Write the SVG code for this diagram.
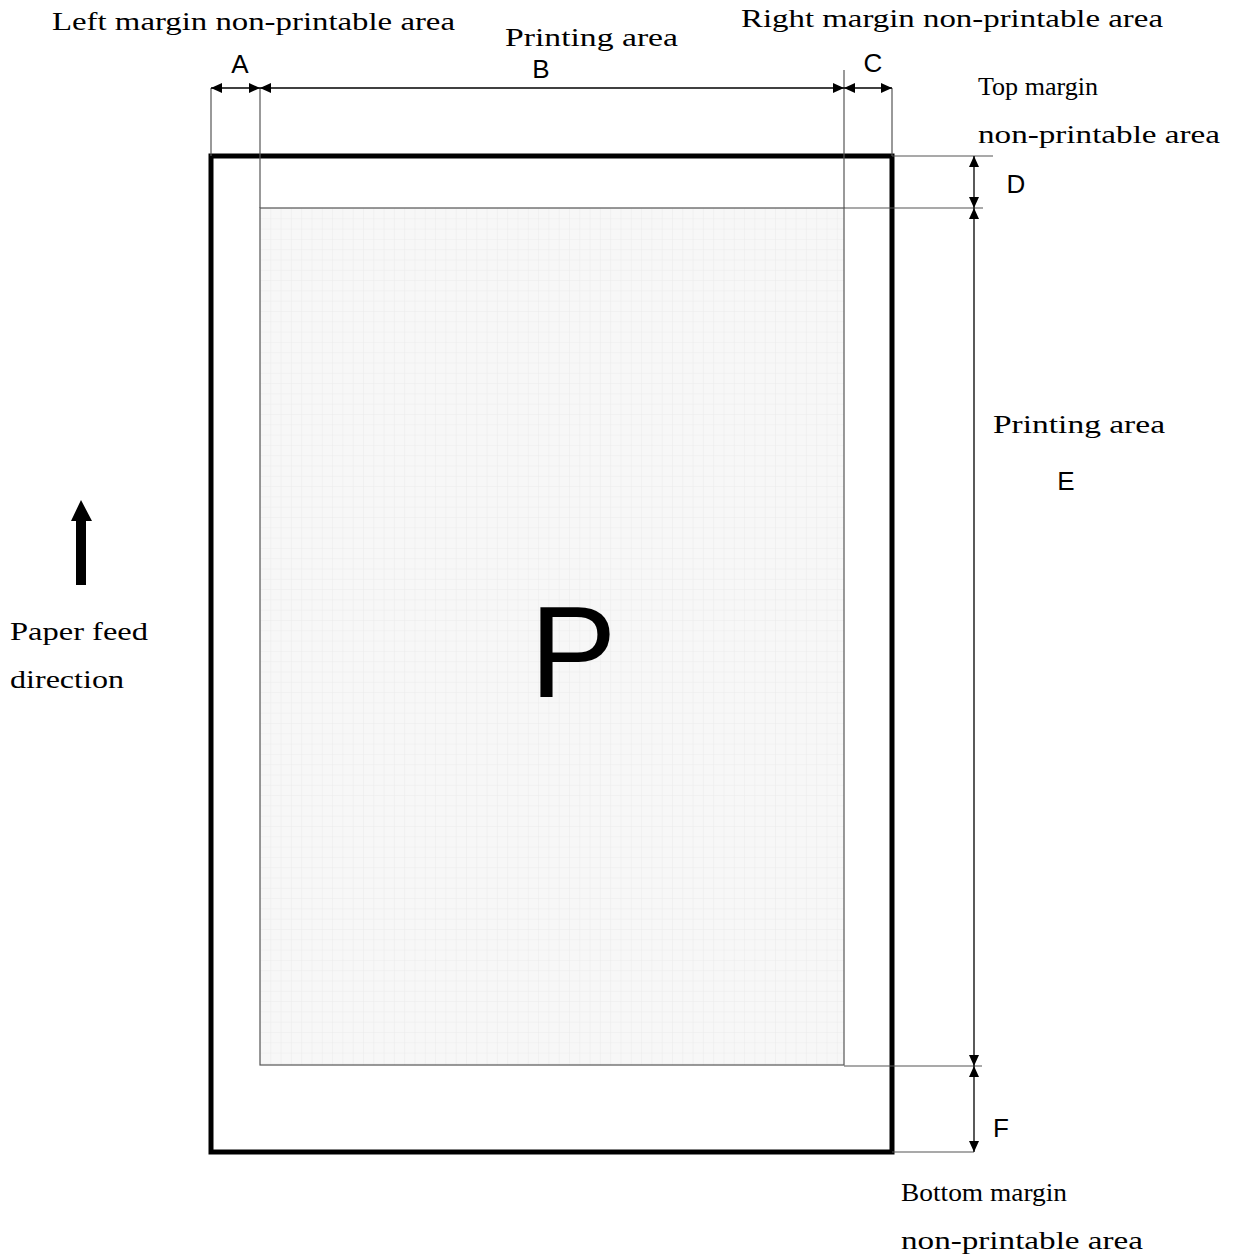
<svg xmlns="http://www.w3.org/2000/svg" width="1239" height="1254" viewBox="0 0 1239 1254">
<style>
.serif{font-family:"Liberation Serif","Times New Roman",serif;font-size:25px;fill:#000}
.sans{font-family:"Liberation Sans",Arial,sans-serif;font-size:26px;fill:#000}
.ext{stroke:#555;stroke-width:1.2;fill:none}
.dim{stroke:#000;stroke-width:1.3;fill:none;marker-start:url(#ah);marker-end:url(#ah)}
</style>
<defs>
<marker id="ah" viewBox="0 0 11 10" refX="11" refY="5" markerWidth="11" markerHeight="10" markerUnits="userSpaceOnUse" orient="auto-start-reverse">
<path d="M0,0 L11,5 L0,10 Z" fill="#000"/>
</marker>
<pattern id="grid" x="260" y="208" width="10.3" height="10.3" patternUnits="userSpaceOnUse">
<rect width="10.3" height="10.3" fill="#f7f7f7"/>
<path d="M0,0 H10.3 M0,0 V10.3" stroke="#ebebeb" stroke-width="1"/>
</pattern>
</defs>

<g id="printing-area">
<rect x="260" y="208" width="584" height="857" fill="url(#grid)" stroke="#555" stroke-width="1.2"/>
</g>

<g id="paper">
<rect x="211" y="156" width="681" height="996" fill="none" stroke="#000" stroke-width="5"/>
</g>

<g id="connectors">
<line class="ext" x1="211" y1="88" x2="211" y2="156"/>
<line class="ext" x1="260" y1="88" x2="260" y2="208"/>
<line class="ext" x1="844" y1="70" x2="844" y2="208"/>
<line class="ext" x1="892" y1="88" x2="892" y2="156"/>
<line class="ext" x1="892" y1="156" x2="993" y2="156"/>
<line class="ext" x1="844" y1="208" x2="983" y2="208"/>
<line class="ext" x1="844" y1="1066" x2="982" y2="1066"/>
<line class="ext" x1="892" y1="1152" x2="974" y2="1152"/>
<line class="dim" x1="211" y1="88" x2="260" y2="88"/>
<line class="dim" x1="260" y1="88" x2="844" y2="88"/>
<line class="dim" x1="844" y1="88" x2="892" y2="88"/>
<line class="dim" x1="974" y1="156" x2="974" y2="208"/>
<line class="dim" x1="974" y1="208" x2="974" y2="1066"/>
<line class="dim" x1="974" y1="1066" x2="974" y2="1152"/>
</g>

<g id="feed-arrow">
<polygon points="81,500 92,521 86,521 86,585 76,585 76,521 71,521" fill="#000"/>
</g>

<g id="labels">
<text class="serif" x="52" y="30" textLength="403" lengthAdjust="spacingAndGlyphs">Left margin non-printable area</text>
<text class="serif" x="505" y="46" textLength="173" lengthAdjust="spacingAndGlyphs">Printing area</text>
<text class="serif" x="741" y="27" textLength="422" lengthAdjust="spacingAndGlyphs">Right margin non-printable area</text>
<text class="serif" x="978" y="95" textLength="120" lengthAdjust="spacingAndGlyphs">Top margin</text>
<text class="serif" x="978" y="143" textLength="242" lengthAdjust="spacingAndGlyphs">non-printable area</text>
<text class="serif" x="993" y="433" textLength="172" lengthAdjust="spacingAndGlyphs">Printing area</text>
<text class="serif" x="10" y="640" textLength="138" lengthAdjust="spacingAndGlyphs">Paper feed</text>
<text class="serif" x="10" y="688" textLength="114" lengthAdjust="spacingAndGlyphs">direction</text>
<text class="serif" x="901" y="1201" textLength="166" lengthAdjust="spacingAndGlyphs">Bottom margin</text>
<text class="serif" x="901" y="1249" textLength="242" lengthAdjust="spacingAndGlyphs">non-printable area</text>
<text class="sans" x="240" y="73" text-anchor="middle">A</text>
<text class="sans" x="541" y="78" text-anchor="middle">B</text>
<text class="sans" x="873" y="72" text-anchor="middle">C</text>
<text class="sans" x="1016" y="193" text-anchor="middle">D</text>
<text class="sans" x="1066" y="490" text-anchor="middle">E</text>
<text class="sans" x="1001" y="1137" text-anchor="middle">F</text>
<text x="573" y="697" text-anchor="middle" style="font-family:'Liberation Sans',Arial,sans-serif;font-size:130px;fill:#000">P</text>
</g>
</svg>
